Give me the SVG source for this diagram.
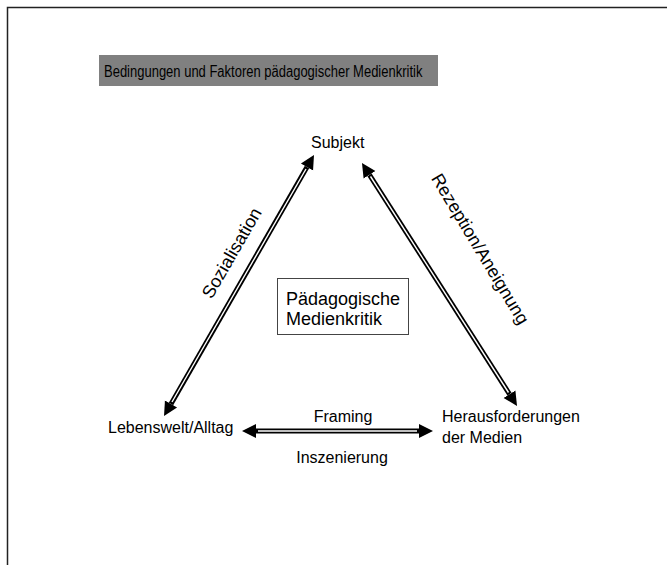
<svg xmlns="http://www.w3.org/2000/svg" width="667" height="565" viewBox="0 0 667 565">
<defs>
<style>
text{font-family:"Liberation Sans",Arial,sans-serif;fill:#000}
.lbl{font-size:16px}
.big{font-size:18px}
.ttl{font-size:13px}
.shaft{stroke:#000;stroke-width:5;fill:none}
.core{stroke:#fff;stroke-width:1.4;fill:none}
</style>
<marker id="head" markerUnits="userSpaceOnUse" markerWidth="16" markerHeight="16" viewBox="0 -8 16 16" refX="0" refY="0" orient="auto-start-reverse">
<path d="M0,-7 L14,0 L0,7 z" fill="#000"/>
</marker>
</defs>
<rect x="0" y="0" width="667" height="565" fill="#fff"/>
<rect x="7.5" y="7.5" width="700" height="600" fill="none" stroke="#222" stroke-width="1.5"/>
<g id="title">
<rect x="99" y="55" width="339" height="31" fill="#808080"/>
<text class="ttl" transform="translate(104 77) scale(1 1.2)">Bedingungen und Faktoren pädagogischer Medienkritik</text>
</g>
<g id="connectors">
<line class="shaft" x1="171" y1="403.9" x2="307" y2="167.1" marker-start="url(#head)" marker-end="url(#head)"/>
<line class="core" x1="172" y1="402" x2="306" y2="169"/>
<line class="shaft" x1="369.5" y1="174.8" x2="509.5" y2="394.2" marker-start="url(#head)" marker-end="url(#head)"/>
<line class="core" x1="370.5" y1="176.5" x2="508.5" y2="392.5"/>
<line class="shaft" x1="256" y1="431" x2="419" y2="431" marker-start="url(#head)" marker-end="url(#head)"/>
<line class="core" x1="258" y1="431" x2="417" y2="431"/>
<text class="big" x="237" y="256" text-anchor="middle" transform="rotate(-60 237 256)">Sozialisation</text>
<text class="big" x="475" y="252" text-anchor="middle" transform="rotate(59 475 252)">Rezeption/Aneignung</text>
<text class="lbl" x="343" y="422" text-anchor="middle">Framing</text>
<text class="lbl" x="342" y="463" text-anchor="middle">Inszenierung</text>
</g>
<g id="subjekt">
<text class="lbl" x="311" y="148">Subjekt</text>
</g>
<g id="lebenswelt">
<text class="lbl" x="108" y="433">Lebenswelt/Alltag</text>
</g>
<g id="medien">
<text class="lbl" x="442" y="422">Herausforderungen</text>
<text class="lbl" x="442" y="443">der Medien</text>
</g>
<g id="medienkritik">
<rect x="277.5" y="278.5" width="131" height="56" fill="#fff" stroke="#444" stroke-width="1"/>
<text class="big" x="286" y="305">Pädagogische</text>
<text class="big" x="286" y="325">Medienkritik</text>
</g>
</svg>
